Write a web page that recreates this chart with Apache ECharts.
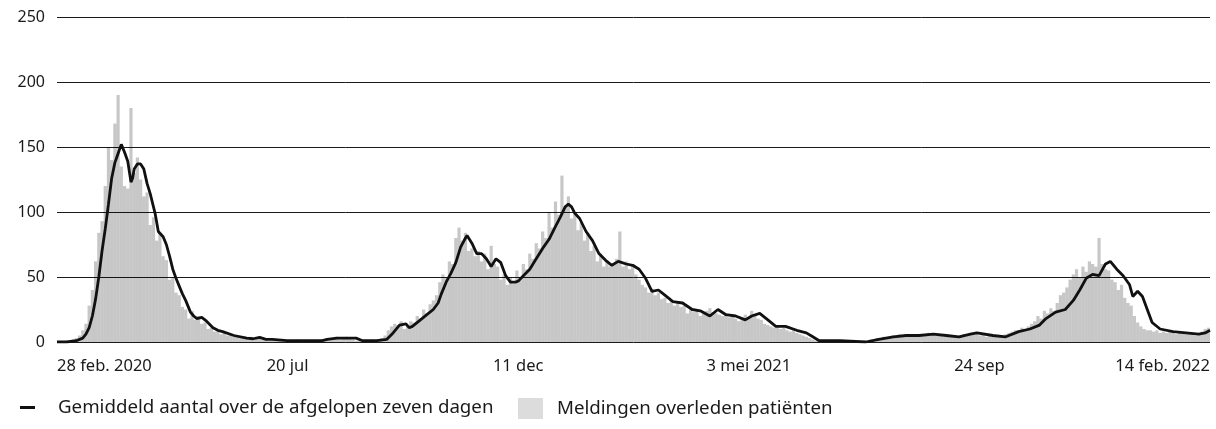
<!DOCTYPE html>
<html>
<head>
<meta charset="utf-8">
<title>Overleden patiënten</title>
<script src="https://cdn.jsdelivr.net/npm/echarts@6.0.0/dist/echarts.min.js"></script>
<style>
  html, body { margin: 0; padding: 0; background: #fff; }
  #main { width: 1216px; height: 429px; }
</style>
</head>
<body>
<div id="main"></div>
<script>
// x-as = dagnummer, dag 0 = 28 feb. 2020, dag 717 = 14 feb. 2022
var tickLabels = ['28 feb. 2020', '20 jul', '11 dec', '3 mei 2021', '24 sep', '14 feb. 2022'];
var tickStep = 143.4;
var lastDay = 717;

var lineName = 'Gemiddeld aantal over de afgelopen zeven dagen';
var barName = 'Meldingen overleden patiënten';

var barStep = 2;
var barValues = [
    0, 0, 0, 1, 1, 2, 3, 5, 9, 14,
    28, 40, 62, 84, 93, 120, 150, 140, 168, 190,
    135, 120, 118, 180, 130, 142, 125, 112, 115, 90,
    96, 78, 84, 66, 63, 48, 50, 38, 36, 27,
    25, 18, 24, 17, 20, 14, 15, 10, 11, 8,
    9, 6, 8, 5, 6, 4, 5, 3, 4, 3,
    4, 2, 4, 3, 2, 3, 1, 2, 2, 1,
    2, 1, 0, 1, 1, 2, 0, 1, 1, 0,
    1, 1, 2, 2, 3, 2, 3, 4, 2, 3,
    4, 3, 2, 1, 1, 0, 1, 1, 2, 1,
    2, 3, 5, 9, 12, 14, 13, 16, 10, 13,
    16, 15, 20, 18, 25, 22, 29, 32, 36, 46,
    52, 50, 62, 60, 80, 88, 78, 84, 70, 72,
    66, 70, 62, 68, 56, 74, 60, 58, 48, 52,
    44, 50, 45, 55, 50, 60, 56, 68, 64, 76,
    72, 85, 80, 100, 88, 108, 98, 128, 104, 112,
    95, 100, 86, 92, 78, 84, 70, 74, 62, 68,
    58, 62, 58, 60, 64, 85, 58, 62, 56, 60,
    52, 48, 44, 42, 38, 41, 36, 38, 33, 34,
    30, 32, 28, 31, 27, 28, 22, 25, 23, 24,
    20, 22, 24, 26, 23, 22, 21, 20, 22, 19,
    21, 18, 16, 18, 21, 19, 24, 20, 18, 17,
    14, 13, 12, 11, 12, 10, 11, 9, 8, 9,
    7, 6, 5, 4, 3, 2, 1, 1, 1, 0,
    1, 1, 0, 1, 0, 0, 1, 0, 0, 1,
    0, 1, 1, 2, 2, 3, 3, 4, 3, 4,
    5, 4, 6, 5, 4, 5, 6, 4, 5, 6,
    5, 7, 6, 5, 6, 5, 4, 5, 4, 5,
    4, 5, 6, 6, 7, 6, 6, 5, 6, 4,
    5, 4, 5, 4, 5, 6, 7, 8, 9, 9,
    11, 10, 12, 14, 16, 20, 18, 24, 22, 26,
    24, 30, 36, 38, 42, 48, 52, 56, 50, 58,
    54, 62, 60, 58, 80, 60, 56, 55, 48, 46,
    40, 44, 34, 30, 28, 20, 15, 12, 10, 9,
    9, 8, 9, 7, 8, 7, 8, 7, 6, 8,
    7, 6, 7, 6, 5, 7, 8, 10, 11
];

var avgDays = [
    0, 6, 12, 16, 18, 20, 22, 24, 26, 28,
    30, 32, 34, 36, 38, 40, 42, 44, 46, 47,
    48, 50, 52, 54, 56, 58, 61, 63, 66, 68,
    70, 72, 74, 76, 78, 80, 83, 85, 87, 90,
    93, 97, 100, 103, 110, 118, 122, 126, 130, 134,
    143, 155, 165, 168, 174, 186, 190, 199, 205, 209,
    213, 217, 219, 221, 226, 230, 234, 237, 239, 242,
    245, 248, 251, 254, 255, 258, 261, 264, 267, 270,
    273, 276, 279, 282, 285, 287, 290, 294, 298, 302,
    306, 310, 313, 316, 318, 320, 322, 325, 329, 333,
    337, 341, 345, 349, 350, 354, 358, 362, 366, 370,
    374, 378, 383, 389, 395, 400, 406, 411, 416, 422,
    428, 432, 437, 443, 447, 453, 460, 466, 470, 474,
    487, 503, 511, 520, 528, 536, 545, 553, 561, 568,
    572, 582, 590, 598, 605, 611, 615, 621, 627, 632,
    636, 640, 644, 648, 652, 655, 659, 663, 667, 669,
    672, 675, 678, 681, 686, 694, 702, 710, 714, 717
];
var avgValues = [
    0, 0, 1, 3, 6, 11, 20, 33, 50, 70,
    87, 106, 126, 138, 145, 152, 146, 139, 123, 126,
    133, 137, 137, 133, 122, 114, 99, 85, 81, 75,
    66, 56, 49, 43, 37, 32, 23, 20, 18, 19,
    16, 11, 9, 8, 5, 3, 2.5, 3.5, 2, 2,
    1, 1, 1, 2, 3, 3, 1, 1, 2, 7,
    13, 14, 11, 12, 17, 21, 25, 30, 37, 46,
    53, 61, 73, 80, 82, 76, 68, 68, 64, 58,
    64, 61, 51, 46, 46, 47, 51, 56, 64, 72,
    79, 89, 96, 104, 106, 104, 99, 95, 85, 78,
    68, 63, 59, 62, 63, 60, 59, 56, 49, 39,
    40, 36, 31, 30, 25, 24, 20, 25, 21, 20,
    17, 20, 22, 16, 12, 12, 9, 7, 4, 1,
    1, 0, 2, 4, 5, 5, 6, 5, 4, 6,
    7, 5, 4, 8, 10, 13, 18, 23, 25, 32,
    40, 49, 52, 51, 60, 62, 56, 51, 44, 35,
    39, 35, 25, 15, 10, 8, 7, 6, 7, 9
];

var barData = barValues.map(function (v, i) { return [i * barStep, v]; });
var avgData = avgDays.map(function (d, i) { return [d, avgValues[i]]; });

var font = '"Noto Sans", "Open Sans", sans-serif';

var chart = echarts.init(document.getElementById('main'));
chart.setOption({
    animation: false,
    backgroundColor: '#fff',
    grid: {
        left: 57,
        right: 6,
        top: 17,
        bottom: 87
    },
    legend: [
        {
            data: [lineName],
            left: 20,
            top: 398,
            padding: 0,
            icon: 'rect',
            itemWidth: 15,
            itemHeight: 3,
            itemStyle: {color: '#111'},
            selectedMode: false,
            textStyle: {fontFamily: font, fontSize: 18.7, color: '#1a1a1a', padding: [0, 0, 0, 18]}
        },
        {
            data: [barName],
            left: 518,
            top: 398,
            padding: 0,
            icon: 'rect',
            itemWidth: 25,
            itemHeight: 21,
            itemStyle: {color: '#dcdcdc'},
            selectedMode: false,
            textStyle: {fontFamily: font, fontSize: 18.7, color: '#1a1a1a', padding: [0, 0, 0, 9]}
        }
    ],
    xAxis: {
        type: 'value',
        min: 0,
        max: lastDay,
        interval: tickStep,
        axisLine: {show: false},
        axisTick: {show: false},
        splitLine: {show: false},
        axisLabel: {
            showMinLabel: true,
            showMaxLabel: true,
            alignMinLabel: 'left',
            alignMaxLabel: 'right',
            margin: 16,
            fontFamily: font,
            fontSize: 16.5,
            color: '#1a1a1a',
            formatter: function (v) {
                return tickLabels[Math.round(v / tickStep)] || '';
            }
        }
    },
    yAxis: {
        type: 'value',
        min: 0,
        max: 250,
        interval: 50,
        axisLine: {show: false},
        axisTick: {show: false},
        axisLabel: {margin: 12, fontFamily: font, fontSize: 16, color: '#1a1a1a'},
        splitLine: {lineStyle: {color: '#1a1a1a', width: 1}}
    },
    series: [
        {
            name: barName,
            type: 'bar',
            barWidth: 3.2,
            itemStyle: {color: 'rgba(0,0,0,0.22)'},
            data: barData
        },
        {
            name: lineName,
            type: 'line',
            showSymbol: false,
            z: 3,
            lineStyle: {color: '#111', width: 2.8},
            data: avgData
        }
    ]
});
</script>
</body>
</html>
